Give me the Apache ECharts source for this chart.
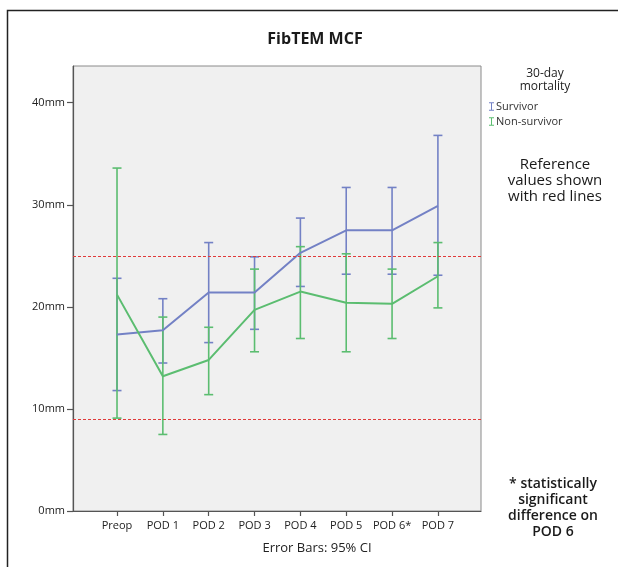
<!DOCTYPE html>
<html>
<head>
<meta charset="utf-8">
<script src="https://cdn.jsdelivr.net/npm/echarts@6/dist/echarts.min.js"></script>
<style>
html,body{margin:0;padding:0;background:#fff;}
#chart{width:618px;height:567px;}
</style>
</head>
<body>
<div id="chart"></div>
<script>
const categories = ['Preop', 'POD 1', 'POD 2', 'POD 3', 'POD 4', 'POD 5', 'POD 6*', 'POD 7'];
const yTicks = [0, 10, 20, 30, 40];
const survivorMean  = [17.3, 17.7, 21.4, 21.4, 25.3, 27.5, 27.5, 29.9];
const survivorLow   = [11.8, 14.5, 16.5, 17.8, 22.0, 23.2, 23.2, 23.1];
const survivorHigh  = [22.8, 20.8, 26.3, 24.9, 28.7, 31.7, 31.7, 36.8];
const nonSurvMean   = [21.2, 13.2, 14.8, 19.7, 21.5, 20.4, 20.3, 23.0];
const nonSurvLow    = [9.1, 7.5, 11.4, 15.6, 16.9, 15.6, 16.9, 19.9];
const nonSurvHigh   = [33.6, 19.0, 18.0, 23.7, 25.9, 25.2, 23.7, 26.3];
const referenceLines = [25, 9];

const FONT = 'Open Sans';
const BLUE = '#7381c5';
const GREEN = '#5bbd70';

function errData(low, high) { return low.map((l, i) => [i, l, high[i]]); }
function meanData(m) { return m.map((v, i) => [i, v]); }

function errRender(color) {
  return function (params, api) {
    const x = api.value(0);
    const lo = api.coord([x, api.value(1)]);
    const hi = api.coord([x, api.value(2)]);
    const w = 4.5;
    const style = { stroke: color, lineWidth: 1.6 };
    return {
      type: 'group',
      children: [
        { type: 'line', shape: { x1: lo[0], y1: lo[1], x2: hi[0], y2: hi[1] }, style },
        { type: 'line', shape: { x1: lo[0] - w, y1: lo[1], x2: lo[0] + w, y2: lo[1] }, style },
        { type: 'line', shape: { x1: hi[0] - w, y1: hi[1], x2: hi[0] + w, y2: hi[1] }, style }
      ]
    };
  };
}

const IBEAM = 'path://M0,0 L6,0 L6,1 L3.6,1 L3.6,9 L6,9 L6,10 L0,10 L0,9 L2.4,9 L2.4,1 L0,1 Z';
const idx = categories.map((c, i) => i);

const chart = echarts.init(document.getElementById('chart'), null, { renderer: 'canvas' });
chart.setOption({
  animation: false,
  backgroundColor: '#fff',
  textStyle: { fontFamily: FONT },
  title: {
    text: 'FibTEM MCF',
    left: 310, top: 26, textAlign: 'center',
    textStyle: { fontFamily: FONT, fontSize: 16, fontWeight: 'bold', color: '#1a1a1a' }
  },
  grid: {
    left: 73, top: 66, right: 137, bottom: 56,
    show: true, backgroundColor: '#f0f0f0', borderColor: '#8a8a8a', borderWidth: 1
  },
  legend: {
    orient: 'vertical', left: 484, top: 96,
    itemWidth: 5, itemHeight: 9, itemGap: 4,
    textStyle: { fontFamily: FONT, fontSize: 11, color: '#333', padding: [0, 0, 0, -3] },
    data: [
      { name: 'Survivor', icon: IBEAM, itemStyle: { color: BLUE } },
      { name: 'Non-survivor', icon: IBEAM, itemStyle: { color: GREEN } }
    ]
  },
  xAxis: {
    type: 'value', min: -0.96, max: 7.94,
    splitLine: { show: false },
    axisLine: { show: true, onZero: false, lineStyle: { color: '#555', width: 1.2 } },
    axisTick: { show: true, length: 5, customValues: idx, lineStyle: { color: '#555', width: 1.2 } },
    axisLabel: {
      customValues: idx, margin: 9,
      formatter: v => categories[Math.round(v)],
      fontFamily: FONT, fontSize: 11, color: '#222'
    }
  },
  yAxis: {
    type: 'value', min: 0, max: 43.6, interval: 10,
    splitLine: { show: false },
    axisLine: { show: true, onZero: false, lineStyle: { color: '#555', width: 1.2 } },
    axisTick: { show: true, length: 6, customValues: yTicks, lineStyle: { color: '#555', width: 1.2 } },
    axisLabel: {
      customValues: yTicks, margin: 8,
      formatter: v => v + 'mm',
      fontFamily: FONT, fontSize: 11, color: '#222'
    }
  },
  series: [
    {
      name: 'Survivor', type: 'line', data: meanData(survivorMean),
      symbol: 'none', lineStyle: { color: BLUE, width: 2 }, itemStyle: { color: BLUE }, z: 3,
      markLine: {
        silent: true, symbol: 'none', label: { show: false },
        lineStyle: { color: '#e03a3a', type: [3, 2], width: 1 },
        data: referenceLines.map(v => ({ yAxis: v }))
      }
    },
    {
      name: 'Non-survivor', type: 'line', data: meanData(nonSurvMean),
      symbol: 'none', lineStyle: { color: GREEN, width: 2 }, itemStyle: { color: GREEN }, z: 3
    },
    {
      name: 'Survivor', type: 'custom', data: errData(survivorLow, survivorHigh),
      renderItem: errRender(BLUE), encode: { x: 0, y: [1, 2] }, z: 2
    },
    {
      name: 'Non-survivor', type: 'custom', data: errData(nonSurvLow, nonSurvHigh),
      renderItem: errRender(GREEN), encode: { x: 0, y: [1, 2] }, z: 2
    }
  ],
  graphic: [
    { type: 'rect', shape: { x: 7.5, y: 10.5, width: 700, height: 700 }, style: { fill: 'none', stroke: '#222', lineWidth: 1.5 }, silent: true, z: -10 },
    { type: 'text', x: 545, y: 80, style: { text: '30-day\nmortality', align: 'center', verticalAlign: 'middle', font: '12px "Open Sans"', fill: '#222', lineHeight: 13 } },
    { type: 'text', x: 555, y: 181, style: { text: 'Reference\nvalues shown\nwith red lines', align: 'center', verticalAlign: 'middle', font: '15px "Open Sans"', fill: '#1a1a1a', lineHeight: 16 } },
    { type: 'text', x: 553, y: 508, style: { text: '* statistically\nsignificant\ndifference on\nPOD 6', align: 'center', verticalAlign: 'middle', font: '600 14px "Open Sans"', fill: '#1a1a1a', lineHeight: 16 } },
    { type: 'text', x: 317, y: 548, style: { text: 'Error Bars: 95% CI', align: 'center', verticalAlign: 'middle', font: '13px "Open Sans"', fill: '#222' } }
  ]
});
</script>
</body>
</html>
